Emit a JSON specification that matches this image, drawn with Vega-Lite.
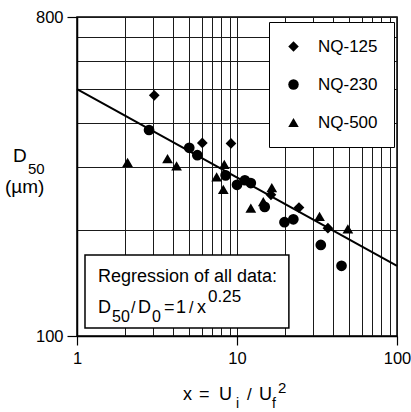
{
  "$schema": "https://vega.github.io/schema/vega-lite/v6.json",
  "width": 320,
  "height": 319,
  "autosize": {"type": "none"},
  "padding": {"left": 77, "top": 17, "right": 14, "bottom": 76},
  "background": "white",
  "config": {
    "font": "Liberation Sans",
    "view": {"stroke": "black", "strokeWidth": 1.5},
    "text": {"font": "Liberation Sans", "color": "black"}
  },
  "layer": [
    {
      "data": {"values": [{"x": 1, "d50": 500}, {"x": 100, "d50": 158}]},
      "mark": {"type": "line", "color": "black", "strokeWidth": 2},
      "encoding": {
        "x": {"field": "x", "type": "quantitative", "title": null,
          "scale": {"type": "log", "domain": [1, 100], "nice": false},
          "axis": {
            "values": [1, 2, 3, 4, 5, 6, 7, 8, 9, 10, 20, 30, 40, 50, 60, 70, 80, 90, 100],
            "labelExpr": "(datum.value == 1 || datum.value == 10 || datum.value == 100) ? datum.value : ''",
            "labelFlush": false, "labelOverlap": false, "labelBound": false,
            "labelFontSize": 16.5, "labelColor": "black", "labelPadding": 5,
            "grid": true, "gridColor": "#1a1a1a", "gridWidth": 1, "gridOpacity": 1,
            "tickSize": 9, "tickColor": "black", "tickWidth": 1.2,
            "tickOpacity": {"condition": {"test": "datum.value == 1 || datum.value == 10 || datum.value == 100", "value": 1}, "value": 0},
            "domain": true, "domainColor": "black", "domainWidth": 1.5, "title": null
          }},
        "y": {"field": "d50", "type": "quantitative", "title": null,
          "scale": {"type": "log", "domain": [100, 800], "nice": false},
          "axis": {
            "values": [100, 200, 300, 400, 500, 600, 700, 800],
            "labelExpr": "(datum.value == 100 || datum.value == 800) ? datum.value : ''",
            "labelOverlap": false, "labelBound": false, "labelFlush": false,
            "labelFontSize": 16.5, "labelColor": "black", "labelPadding": 4,
            "grid": true, "gridColor": "#1a1a1a", "gridWidth": 1, "gridOpacity": 1,
            "tickSize": 10, "tickColor": "black", "tickWidth": 1.2,
            "tickOpacity": {"condition": {"test": "datum.value == 100 || datum.value == 800", "value": 1}, "value": 0},
            "domain": true, "domainColor": "black", "domainWidth": 1.5, "title": null
          }}
      }
    },
    {
      "data": {"values": [
        {"series": "NQ-125", "x": 3.04, "d50": 480},
        {"series": "NQ-125", "x": 6.07, "d50": 352},
        {"series": "NQ-125", "x": 9.17, "d50": 351},
        {"series": "NQ-125", "x": 16.3, "d50": 251},
        {"series": "NQ-125", "x": 24.4, "d50": 231},
        {"series": "NQ-125", "x": 37, "d50": 202},
        {"series": "NQ-230", "x": 2.82, "d50": 383},
        {"series": "NQ-230", "x": 5.03, "d50": 341},
        {"series": "NQ-230", "x": 5.65, "d50": 325},
        {"series": "NQ-230", "x": 8.49, "d50": 285},
        {"series": "NQ-230", "x": 10.0, "d50": 268},
        {"series": "NQ-230", "x": 11.2, "d50": 276},
        {"series": "NQ-230", "x": 12.2, "d50": 271},
        {"series": "NQ-230", "x": 14.9, "d50": 232},
        {"series": "NQ-230", "x": 19.8, "d50": 210},
        {"series": "NQ-230", "x": 22.5, "d50": 214},
        {"series": "NQ-230", "x": 33.4, "d50": 181},
        {"series": "NQ-230", "x": 45, "d50": 158},
        {"series": "NQ-500", "x": 2.07, "d50": 310},
        {"series": "NQ-500", "x": 3.68, "d50": 318},
        {"series": "NQ-500", "x": 4.19, "d50": 303},
        {"series": "NQ-500", "x": 7.46, "d50": 282},
        {"series": "NQ-500", "x": 8.33, "d50": 306},
        {"series": "NQ-500", "x": 8.21, "d50": 260},
        {"series": "NQ-500", "x": 12.2, "d50": 230},
        {"series": "NQ-500", "x": 14.6, "d50": 240},
        {"series": "NQ-500", "x": 16.5, "d50": 263},
        {"series": "NQ-500", "x": 32.8, "d50": 218},
        {"series": "NQ-500", "x": 49.3, "d50": 201}
      ]},
      "mark": {"type": "point", "filled": true, "opacity": 1, "color": "black", "size": 115},
      "encoding": {
        "x": {"field": "x", "type": "quantitative", "title": null},
        "y": {"field": "d50", "type": "quantitative", "title": null},
        "shape": {"field": "series", "type": "nominal",
          "scale": {"domain": ["NQ-125", "NQ-230", "NQ-500"], "range": ["diamond", "circle", "triangle-up"]},
          "legend": {
            "orient": "none", "legendX": 192, "legendY": 5, "title": null,
            "strokeColor": "black", "fillColor": "white", "padding": 16,
            "labelFont": "Liberation Sans", "labelFontSize": 17, "labelColor": "black",
            "labelOffset": 16, "rowPadding": 20,
            "symbolSize": 110, "symbolFillColor": "black", "symbolStrokeColor": "black", "symbolOpacity": 1
          }}
      }
    },
    {
      "data": {"values": [{"t": "box"}]},
      "mark": {"type": "rect", "fill": "white", "stroke": "black", "strokeWidth": 1.5},
      "encoding": {
        "x": {"datum": 1.122, "type": "quantitative", "title": null},
        "x2": {"datum": 21.1},
        "y": {"datum": 169.5, "type": "quantitative", "title": null},
        "y2": {"datum": 105.4}
      }
    },
    {"data": {"values": [{"t": "Regression of all data:"}]},
     "mark": {"type": "text", "align": "left", "baseline": "alphabetic", "dx": 21, "dy": -31, "fontSize": 18},
     "encoding": {"x": {"datum": 1}, "y": {"datum": 116.2}, "text": {"field": "t"}}},
    {"data": {"values": [{"t": "D"}]},
     "mark": {"type": "text", "align": "left", "baseline": "alphabetic", "dx": 21, "dy": 0, "fontSize": 18},
     "encoding": {"x": {"datum": 1}, "y": {"datum": 116.2}, "text": {"field": "t"}}},
    {"data": {"values": [{"t": "50"}]},
     "mark": {"type": "text", "align": "left", "baseline": "alphabetic", "dx": 35, "dy": 9, "fontSize": 16},
     "encoding": {"x": {"datum": 1}, "y": {"datum": 116.2}, "text": {"field": "t"}}},
    {"data": {"values": [{"t": "/"}]},
     "mark": {"type": "text", "align": "left", "baseline": "alphabetic", "dx": 54, "dy": 0, "fontSize": 16},
     "encoding": {"x": {"datum": 1}, "y": {"datum": 116.2}, "text": {"field": "t"}}},
    {"data": {"values": [{"t": "D"}]},
     "mark": {"type": "text", "align": "left", "baseline": "alphabetic", "dx": 61, "dy": 0, "fontSize": 18},
     "encoding": {"x": {"datum": 1}, "y": {"datum": 116.2}, "text": {"field": "t"}}},
    {"data": {"values": [{"t": "0"}]},
     "mark": {"type": "text", "align": "left", "baseline": "alphabetic", "dx": 75, "dy": 9, "fontSize": 16},
     "encoding": {"x": {"datum": 1}, "y": {"datum": 116.2}, "text": {"field": "t"}}},
    {"data": {"values": [{"t": "="}]},
     "mark": {"type": "text", "align": "left", "baseline": "alphabetic", "dx": 87, "dy": 0, "fontSize": 18},
     "encoding": {"x": {"datum": 1}, "y": {"datum": 116.2}, "text": {"field": "t"}}},
    {"data": {"values": [{"t": "1"}]},
     "mark": {"type": "text", "align": "left", "baseline": "alphabetic", "dx": 99, "dy": 0, "fontSize": 18},
     "encoding": {"x": {"datum": 1}, "y": {"datum": 116.2}, "text": {"field": "t"}}},
    {"data": {"values": [{"t": "/"}]},
     "mark": {"type": "text", "align": "left", "baseline": "alphabetic", "dx": 112, "dy": 0, "fontSize": 16},
     "encoding": {"x": {"datum": 1}, "y": {"datum": 116.2}, "text": {"field": "t"}}},
    {"data": {"values": [{"t": "x"}]},
     "mark": {"type": "text", "align": "left", "baseline": "alphabetic", "dx": 120, "dy": 0, "fontSize": 18},
     "encoding": {"x": {"datum": 1}, "y": {"datum": 116.2}, "text": {"field": "t"}}},
    {"data": {"values": [{"t": "0.25"}]},
     "mark": {"type": "text", "align": "left", "baseline": "alphabetic", "dx": 131, "dy": -11, "fontSize": 17},
     "encoding": {"x": {"datum": 1}, "y": {"datum": 116.2}, "text": {"field": "t"}}},
    {"data": {"values": [{"t": "D"}]},
     "mark": {"type": "text", "align": "left", "baseline": "alphabetic", "dx": -64, "dy": -5, "fontSize": 19},
     "encoding": {"x": {"datum": 1}, "y": {"datum": 300}, "text": {"field": "t"}}},
    {"data": {"values": [{"t": "50"}]},
     "mark": {"type": "text", "align": "left", "baseline": "alphabetic", "dx": -49, "dy": 7, "fontSize": 15},
     "encoding": {"x": {"datum": 1}, "y": {"datum": 300}, "text": {"field": "t"}}},
    {"data": {"values": [{"t": "(µm)"}]},
     "mark": {"type": "text", "align": "left", "baseline": "alphabetic", "dx": -72, "dy": 26, "fontSize": 19},
     "encoding": {"x": {"datum": 1}, "y": {"datum": 300}, "text": {"field": "t"}}},
    {"data": {"values": [{"t": "x"}]},
     "mark": {"type": "text", "align": "left", "baseline": "alphabetic", "dx": -54, "dy": 64, "fontSize": 18},
     "encoding": {"x": {"datum": 10}, "y": {"datum": 100}, "text": {"field": "t"}}},
    {"data": {"values": [{"t": "="}]},
     "mark": {"type": "text", "align": "left", "baseline": "alphabetic", "dx": -38, "dy": 64, "fontSize": 18},
     "encoding": {"x": {"datum": 10}, "y": {"datum": 100}, "text": {"field": "t"}}},
    {"data": {"values": [{"t": "U"}]},
     "mark": {"type": "text", "align": "left", "baseline": "alphabetic", "dx": -18, "dy": 64, "fontSize": 18},
     "encoding": {"x": {"datum": 10}, "y": {"datum": 100}, "text": {"field": "t"}}},
    {"data": {"values": [{"t": "i"}]},
     "mark": {"type": "text", "align": "left", "baseline": "alphabetic", "dx": -1, "dy": 72, "fontSize": 14},
     "encoding": {"x": {"datum": 10}, "y": {"datum": 100}, "text": {"field": "t"}}},
    {"data": {"values": [{"t": "/"}]},
     "mark": {"type": "text", "align": "left", "baseline": "alphabetic", "dx": 10, "dy": 64, "fontSize": 17},
     "encoding": {"x": {"datum": 10}, "y": {"datum": 100}, "text": {"field": "t"}}},
    {"data": {"values": [{"t": "U"}]},
     "mark": {"type": "text", "align": "left", "baseline": "alphabetic", "dx": 22, "dy": 64, "fontSize": 18},
     "encoding": {"x": {"datum": 10}, "y": {"datum": 100}, "text": {"field": "t"}}},
    {"data": {"values": [{"t": "f"}]},
     "mark": {"type": "text", "align": "left", "baseline": "alphabetic", "dx": 35, "dy": 72, "fontSize": 14},
     "encoding": {"x": {"datum": 10}, "y": {"datum": 100}, "text": {"field": "t"}}},
    {"data": {"values": [{"t": "2"}]},
     "mark": {"type": "text", "align": "left", "baseline": "alphabetic", "dx": 41, "dy": 57, "fontSize": 15},
     "encoding": {"x": {"datum": 10}, "y": {"datum": 100}, "text": {"field": "t"}}}
  ]
}
